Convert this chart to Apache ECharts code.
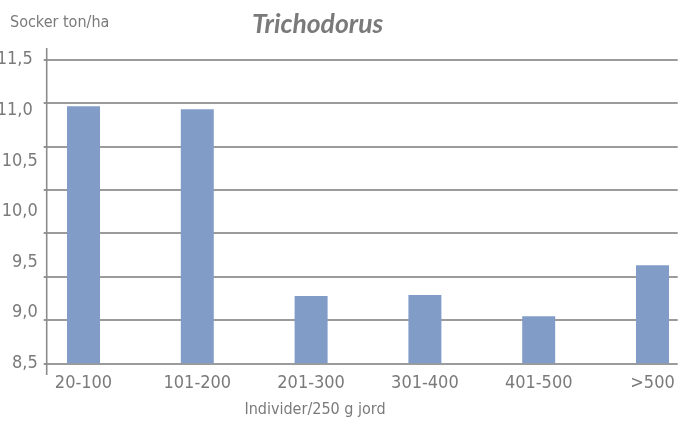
<!DOCTYPE html>
<html><head><meta charset="utf-8">
<script src="https://cdn.jsdelivr.net/npm/echarts@6/dist/echarts.min.js"></script>
<style>html,body{margin:0;padding:0;background:#fff}#c{width:678px;height:422px}</style>
</head><body><div id="c"></div>
<script>
const categories = ['20-100','101-200','201-300','301-400','401-500','>500'];
const sugarValues = [11.04, 11.01, 9.165, 9.175, 8.965, 9.47];
const yTicks = [8.5, 9.0, 9.5, 10.0, 10.5, 11.0, 11.5];

const FONT = '"Liberation Sans Narrow","DejaVu Sans Condensed",sans-serif';
const GREY = '#7a7a7a';
const chart = echarts.init(document.getElementById('c'));
chart.setOption({
  animation: false,
  backgroundColor: '#fff',
  title: {
    text: 'Trichodorus', left: 247, top: 6,
    textStyle: {fontFamily: 'Lato, "Open Sans", sans-serif', fontStyle: 'italic', fontWeight: 'bold', fontSize: 26.5, color: GREY}
  },
  graphic: [
    {type: 'text', left: 10, top: 15, style: {text: 'Socker ton/ha', font: '16px ' + FONT, fill: GREY}},
    {type: 'text', x: 315, y: 410, style: {text: 'Individer/250 g jord', font: '16px ' + FONT, fill: GREY, textAlign: 'center', textVerticalAlign: 'middle'}},
    {type: 'line', shape: {x1: 46.7, y1: 48, x2: 46.7, y2: 375}, style: {stroke: '#8c8c8c', lineWidth: 1.6}, z: 10}
  ],
  grid: [
    {left: 46.7, top: 59.7, width: 631, height: 303.6, outerBoundsMode: 'none', containLabel: false},
    {left: 26.6, top: 59.7, width: 682.8, height: 303.6, outerBoundsMode: 'none', containLabel: false}
  ],
  xAxis: [
    {type: 'category', gridIndex: 0, data: categories, show: false},
    {type: 'category', gridIndex: 1, data: categories,
     axisLine: {show: false}, axisTick: {show: false}, splitLine: {show: false},
     axisLabel: {margin: 11, fontFamily: FONT, fontSize: 18, color: GREY, interval: 0}}
  ],
  yAxis: [
    {type: 'value', gridIndex: 0, min: yTicks[0], max: yTicks[yTicks.length - 1], interval: 0.5,
     axisLine: {show: false}, axisTick: {show: false}, splitLine: {show: false},
     axisLabel: {margin: 9, fontFamily: FONT, fontSize: 18, color: GREY,
       formatter: v => {
         const s = v.toFixed(1).replace('.', ',');
         return v >= 11 ? '{w|' + s + '}' : s;
       },
       rich: {w: {fontFamily: FONT, fontSize: 18, color: GREY, padding: [0, 5, 0, 0]}}}},
    {type: 'value', gridIndex: 0, position: 'left', min: 0, max: 7, interval: 1,
     axisLine: {show: false}, axisLabel: {show: false},
     axisTick: {show: true, length: 3, lineStyle: {color: '#7a7a7a', width: 1.6}},
     splitLine: {show: true, lineStyle: {color: '#7a7a7a', width: 1.6}}},
    {type: 'value', gridIndex: 1, min: yTicks[0], max: yTicks[yTicks.length - 1], show: false}
  ],
  series: [{
    type: 'bar', xAxisIndex: 1, yAxisIndex: 2, data: sugarValues, barWidth: 33,
    itemStyle: {color: '#829cc8'}, z: 1
  }]
});
</script></body></html>
